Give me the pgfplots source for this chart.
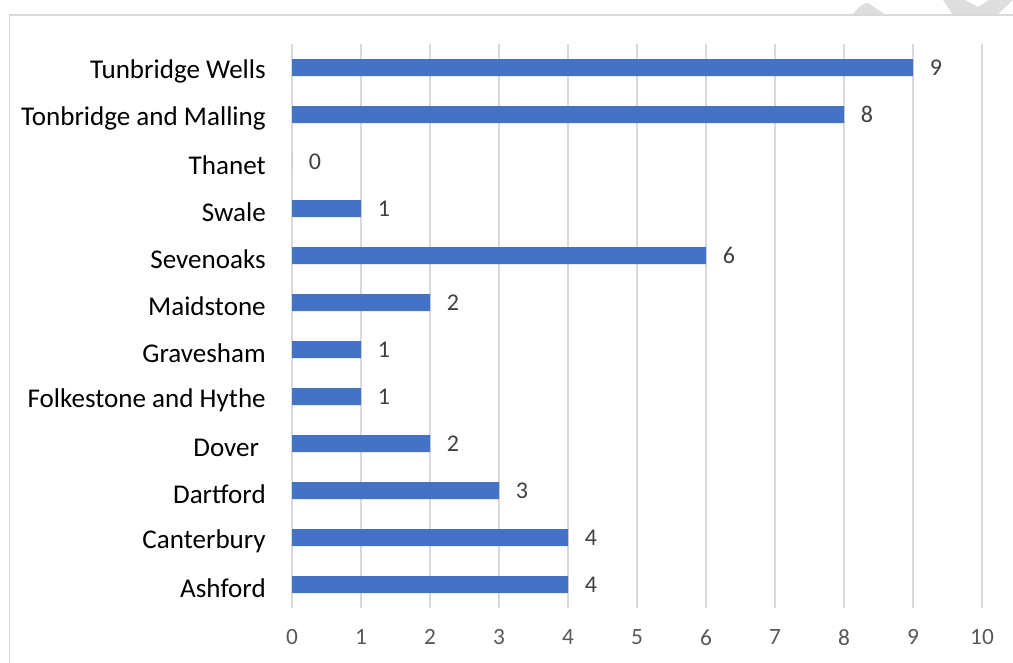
\documentclass[border=0pt]{standalone}
\usepackage{pgfplots}
\pgfplotsset{compat=1.18}
\usepackage{fontspec}
\setmainfont{Carlito}
\definecolor{barblue}{HTML}{4472C4}
\definecolor{gridgray}{HTML}{D9D9D9}
\definecolor{ticktext}{HTML}{595959}
\definecolor{labtext}{HTML}{404040}
\definecolor{wm}{HTML}{DEDEDE}
\begin{document}
\begin{tikzpicture}
\clip (0,0) rectangle (759.75pt,496.5pt);
\fill[white] (0,0) rectangle (759.75pt,496.5pt);
% watermark fragments at top right
\fill[wm] (852*0.75pt,{(662-15)*0.75pt}) .. controls (858*0.75pt,{(662-8)*0.75pt}) and (862*0.75pt,{(662-3)*0.75pt}) .. (868*0.75pt,{(662-3)*0.75pt}) -- (886*0.75pt,{(662-15)*0.75pt}) -- cycle;
\fill[wm] (943*0.75pt,662*0.75pt) -- (965*0.75pt,662*0.75pt) -- (978*0.75pt,{(662-7)*0.75pt}) -- (989*0.75pt,662*0.75pt) -- (1013*0.75pt,662*0.75pt) -- (997*0.75pt,{(662-15)*0.75pt}) -- (953*0.75pt,{(662-15)*0.75pt}) -- cycle;
% chart frame
\draw[gridgray, line width=1.1pt] (7.125pt,-10pt) -- (7.125pt,485.25pt) -- (800pt,485.25pt);
\begin{axis}[
  at={(219pt,40.5pt)}, anchor=south west,
  scale only axis, width=517.5pt, height=423pt,
  xbar, bar width=12.75pt,
  xmin=0, xmax=10, ymin=-0.5, ymax=11.5,
  xtick={0,...,10}, ytick={0,...,11},
  yticklabels={Ashford,Canterbury,Dartford,{Dover\rule{5pt}{0pt}},{Folkestone and Hythe},Gravesham,Maidstone,Sevenoaks,Swale,Thanet,{Tonbridge and Malling},{Tunbridge Wells}},
  axis line style={draw=none},
  major tick length=0pt,
  xmajorgrids, grid style={gridgray, line width=1.1pt},
  xticklabel style={font=\fontsize{17.5}{20}\selectfont, text=ticktext, inner sep=0pt, anchor=center, yshift=-22pt},
  yticklabel style={font=\fontsize{20.3}{24}\selectfont, text=black, inner sep=0pt, anchor=east, xshift=-19.5pt, yshift=-3pt},
  /pgf/number format/assume math mode=true,
  nodes near coords,
  every node near coord/.append style={font=\fontsize{18}{21}\selectfont, text=labtext, inner sep=0pt, anchor=west, xshift=12.5pt},
  clip=false,
]
\addplot[fill=barblue, draw=none] coordinates {
(4,0) (4,1) (3,2) (2,3) (1,4) (1,5) (2,6) (6,7) (1,8) (0,9) (8,10) (9,11)
};
\end{axis}
\end{tikzpicture}
\end{document}
